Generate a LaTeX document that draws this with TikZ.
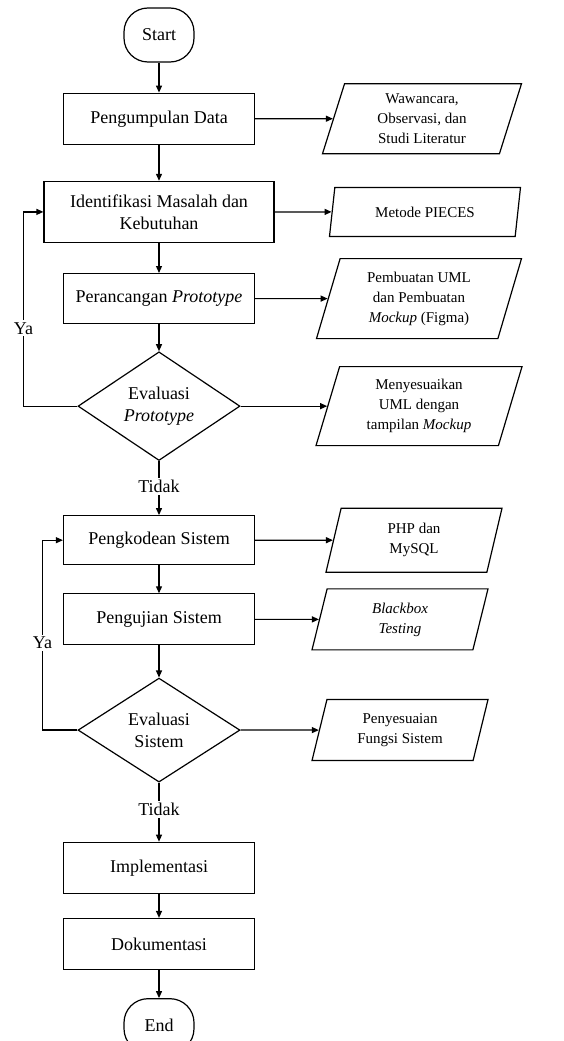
\documentclass[tikz,border=0pt]{standalone}
\usepackage{fontspec}
\setmainfont{Liberation Serif}
\usetikzlibrary{arrows.meta,positioning,shapes.geometric}

\begin{document}
\begin{tikzpicture}[
  x=1pt, y=-1pt,
  line width=1.2pt,
  every node/.style={font=\fontsize{18}{22}\selectfont},
  process/.style={rectangle, draw, minimum width=191pt, minimum height=51pt, align=center, inner sep=2pt},
  terminal/.style={rectangle, rounded corners=24pt, draw, minimum width=70pt, minimum height=54pt},
  decision/.style={diamond, draw, minimum width=162pt, minimum height=108pt, inner sep=0pt, align=center},
  io/.style={trapezium, trapezium left angle=67, trapezium right angle=113, trapezium stretches body,
    draw, align=center, inner sep=1pt, font=\fontsize{15}{20}\selectfont},
  arrow/.style={-{Triangle[length=7pt,width=6pt]}},
  answer/.style={fill=white, inner sep=2pt}
]
\useasboundingbox (0,0) rectangle (563,1041);
% main flow
\node[terminal] at (159,35) (start) {Start};
\node[process, below=30pt of start] (b1) {Pengumpulan Data};
\node[process, below=36pt of b1, minimum width=230pt, minimum height=61pt] (b2) {Identifikasi Masalah dan\\Kebutuhan};
\node[process, below=30pt of b2, minimum height=50pt] (b3) {Perancangan \textit{Prototype}};
\node[decision, below=27pt of b3] (d1) {Evaluasi\\\textit{Prototype}};
\node[process, below=54pt of d1, minimum height=49pt] (b4) {Pengkodean Sistem};
\node[process, below=28pt of b4] (b5) {Pengujian Sistem};
\node[decision, below=32pt of b5, minimum height=104pt] (d2) {Evaluasi\\Sistem};
\node[process, below=59pt of d2] (b6) {Implementasi};
\node[process, below=24pt of b6] (b7) {Dokumentasi};
\node[terminal, below=28pt of b7] (end) {End};
% side notes
\node[io, minimum width=199pt, minimum height=70pt] at (b1 -| 422,0) (p1) {Wawancara,\\Observasi, dan\\Studi Literatur};
\node[io, minimum width=191pt, minimum height=49pt] at (b2 -| 425,0) (p2) {Metode PIECES};
\node[io, minimum width=205pt, minimum height=80pt] at (b3 -| 419,0) (p3) {Pembuatan UML\\dan Pembuatan\\\textit{Mockup} (Figma)};
\node[io, minimum width=206pt, minimum height=79pt] at (d1 -| 419,0) (p4) {Menyesuaikan\\UML dengan\\tampilan \textit{Mockup}};
\node[io, minimum width=176pt, minimum height=64pt] at (b4 -| 414,0) (p5) {PHP dan\\MySQL};
\node[io, minimum width=176pt, minimum height=61pt] at (b5 -| 400,0) (p6) {\textit{Blackbox}\\\textit{Testing}};
\node[io, minimum width=176pt, minimum height=61pt] at (d2 -| 400,0) (p7) {Penyesuaian\\Fungsi Sistem};
% connectors
\draw[arrow] (start) -- (b1);
\draw[arrow] (b1) -- (b2);
\draw[arrow] (b2) -- (b3);
\draw[arrow] (b3) -- (d1);
\draw[arrow] (d1) -- node[answer, pos=0.47] {Tidak} (b4);
\draw[arrow] (b4) -- (b5);
\draw[arrow] (b5) -- (d2);
\draw[arrow] (d2) -- node[answer, pos=0.45] {Tidak} (b6);
\draw[arrow] (b6) -- (b7);
\draw[arrow] (b7) -- (end);
\draw[arrow] (d1.west) -- ++(-54,0) |- node[answer, pos=0.2] {Ya} (b2);
\draw[arrow] (d2.west) -- ++(-35,0) |- node[answer, pos=0.23] {Ya} (b4);
\foreach \from/\to in {b1/p1, b2/p2, b3/p3, d1/p4, b4/p5, b5/p6, d2/p7}
  \draw[arrow] (\from) -- (\to);
\end{tikzpicture}
\end{document}
